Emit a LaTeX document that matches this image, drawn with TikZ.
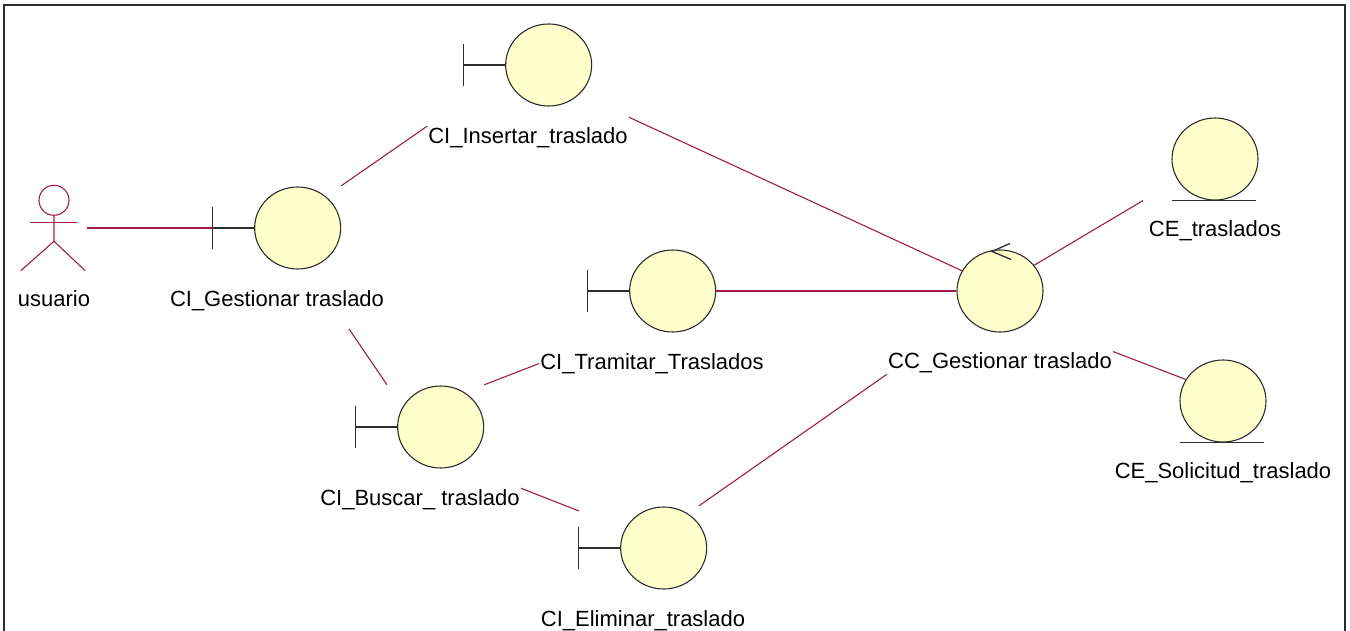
\documentclass[tikz,border=0pt]{standalone}
\usepackage{fontspec}
\setmainfont{Liberation Sans}
\usepackage{xcolor}
\usepackage{tikz}
\usetikzlibrary{shapes.geometric, positioning}
\definecolor{rosered}{RGB}{160,30,70}
\definecolor{roseball}{RGB}{255,255,204}
\definecolor{roseline}{RGB}{45,45,45}
\tikzstyle{ibox} = [rectangle, minimum width=128pt, minimum height=84pt, inner sep=0pt]
\tikzstyle{ball} = [ellipse, minimum width=86pt, minimum height=82pt, inner sep=0pt, draw=roseline, line width=1.1pt, fill=roseball]
\tikzstyle{icon} = [draw=roseline, line width=1.3pt]
\tikzstyle{lbl} = [inner sep=1pt, font=\fontsize{22}{26}\selectfont]
\tikzstyle{assoc} = [draw=rosered, line width=1.1pt]
\tikzstyle{actor} = [draw=rosered, line width=1.1pt]

\begin{document}
\begin{tikzpicture}[x=1pt, y=-1pt, node distance=19pt]
    \useasboundingbox (0,0) rectangle (1350,631);
    \draw[line width=1.6pt, draw=roseline] (4,631) |- (1345,5) -- (1345,631);

    % actor
    \node[minimum width=66pt, minimum height=85pt, inner sep=0pt] (usuario) at (54,228) {};
    \draw[actor] ([yshift=-15pt]usuario.north) circle (15pt);
    \draw[actor] ([shift={(-24pt,-37pt)}]usuario.north) -- ([shift={(23pt,-37pt)}]usuario.north);
    \draw[actor] ([yshift=-30pt]usuario.north) -- ([yshift=-56pt]usuario.north) -- (usuario.south west);
    \draw[actor] ([yshift=-56pt]usuario.north) -- ([xshift=-2pt]usuario.south east);
    \node[lbl, below=of usuario] (usuario-l) {usuario};

    % interfaces
    \foreach \n/\x/\y/\lab in {gest/277/228/{CI\_Gestionar traslado}, ins/528/65/{CI\_Insertar\_traslado}, tram/652/291/{CI\_Tramitar\_Traslados}, busc/420/427/{CI\_Buscar\_ traslado}, elim/643/548/{CI\_Eliminar\_traslado}}{
        \node[ibox] (\n) at (\x,\y) {};
        \node[ball, left=0pt of \n.east] (\n-c) {};
        \draw[icon] ([yshift=21pt]\n.west) -- ([yshift=-21pt]\n.west) (\n.west) -- (\n-c.west);
        \node[lbl, below=of \n] (\n-l) {\lab};
    }

    % control
    \node[ball] (cc) at (1000,291) {};
    \draw[icon] ([shift={(10pt,6pt)}]cc.north) -- ([shift={(-8pt,-2pt)}]cc.north) -- ([shift={(11pt,-10pt)}]cc.north);
    \node[lbl, below=of cc] (cc-l) {CC\_Gestionar traslado};

    % entidades
    \node[ball] (ctras) at (1215,159) {};
    \draw[icon] ([xshift=-43pt]ctras.south) -- ([xshift=41pt]ctras.south);
    \node[lbl, below=of ctras] (ctras-l) {CE\_traslados};
    \node[ball] (csol) at (1223,401) {};
    \draw[icon] ([xshift=-43pt]csol.south) -- ([xshift=41pt]csol.south);
    \node[lbl, below=of csol] (csol-l) {CE\_Solicitud\_traslado};

    % asociaciones
    \draw[assoc] (usuario.east) -- (gest.west);
    \draw[assoc] (gest.north east) -- (ins-l.north west);
    \draw[assoc] ([yshift=9pt]ins-l.north east) -- (cc.152);
    \draw[assoc] (tram.east) -- (cc.west);
    \draw[assoc] ([xshift=72pt,yshift=-17pt]gest-l.south) -- (busc.128);
    \draw[assoc] (busc.north east) -- (tram-l.west);
    \draw[assoc] (busc-l.north east) -- (elim.150);
    \draw[assoc] (elim.37) -- (cc-l.south west);
    \draw[assoc] (cc.37) -- ([xshift=-72pt]ctras.south);
    \draw[assoc] (cc-l.north east) -- (csol.150);
\end{tikzpicture}
\end{document}
